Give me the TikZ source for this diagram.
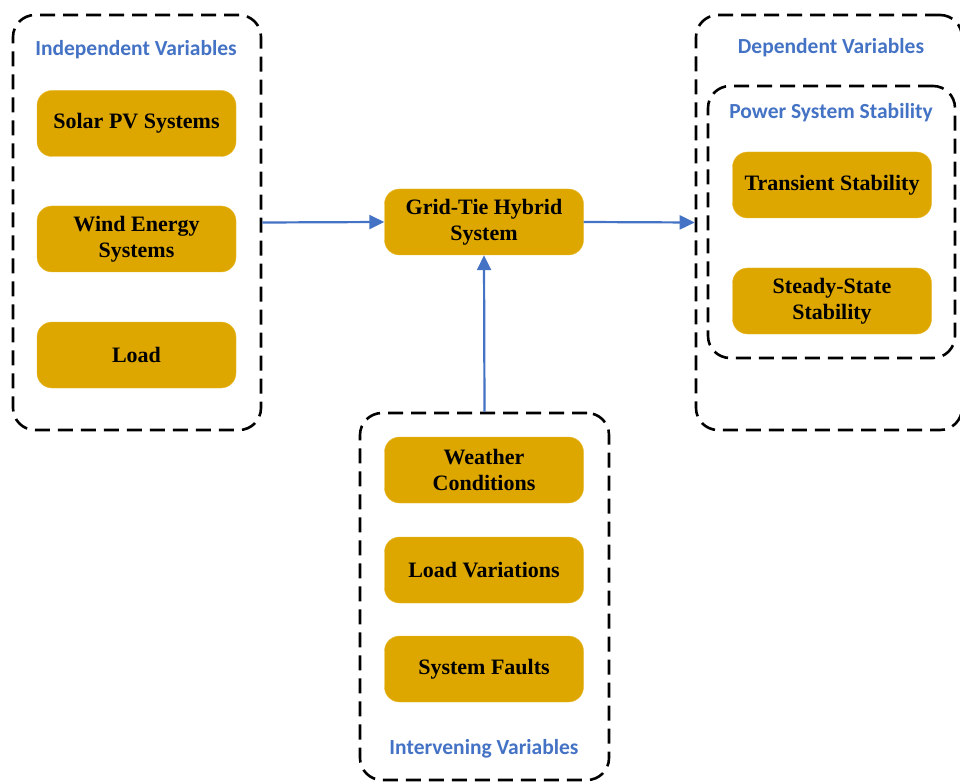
\documentclass[tikz,border=0pt]{standalone}
\usepackage{fontspec}
\setmainfont{Liberation Serif}
\newfontfamily\labfont{Carlito}
\usetikzlibrary{arrows.meta}
\definecolor{boxgold}{HTML}{DEA700}
\definecolor{boxedge}{HTML}{E9BA2E}
\definecolor{labblue}{HTML}{4472C4}

\begin{document}
\begin{tikzpicture}[x=1pt,y=-1pt,
box/.style={draw=boxedge,fill=boxgold,rounded corners=15pt,minimum width=199pt,minimum height=66pt,font=\fontsize{22}{26}\selectfont\bfseries,align=center,inner sep=0},
group/.style={draw,line width=2.6pt,dash pattern=on 15pt off 8pt,rounded corners=22pt,inner sep=0},
lab/.style={font=\labfont\fontsize{21.5}{26}\selectfont\bfseries,text=labblue},
link/.style={-{Triangle[length=15pt,width=14pt]},draw=labblue,line width=2.2pt}]
	\useasboundingbox (0,0) rectangle (960,783);

	%independent variables
	\node[group,minimum width=248pt,minimum height=415pt] at (137,222.5) (indep) {};
	\node[lab] at (136,50) (indeplab) {Independent Variables};
	\node[box] at (136.5,123.5) (solar) {Solar PV Systems};
	\node[box] at (136.5,239) (wind) {Wind Energy\\Systems};
	\node[box] at (136.5,355) (load) {Load};

	%system
	\node[box] at (484,222) (grid) {Grid-Tie Hybrid\\System};

	%dependent variables
	\node[group,minimum width=266pt,minimum height=415pt] at (829,222.5) (dep) {};
	\node[lab] at (831,48) (deplab) {Dependent Variables};
	\node[group,minimum width=247pt,minimum height=272pt] at (831.5,222) (stab) {};
	\node[lab] at (831,113) (stablab) {Power System Stability};
	\node[box] at (832,185) (trans) {Transient Stability};
	\node[box] at (832,301) (steady) {Steady-State\\Stability};

	%intervening variables
	\node[group,minimum width=249pt,minimum height=367pt] at (484.5,596.5) (interv) {};
	\node[box] at (484,470) (weather) {Weather\\Conditions};
	\node[box] at (484,570) (loadvar) {Load Variations};
	\node[box] at (484,669) (faults) {System Faults};
	\node[lab] at (484,749) (intervlab) {Intervening Variables};

	\draw[link] (indep.east) -- (grid.west);
	\draw[link] (grid.east) -- (dep.west);
	\draw[link] (interv.north) -- (grid.south);
\end{tikzpicture}
\end{document}
